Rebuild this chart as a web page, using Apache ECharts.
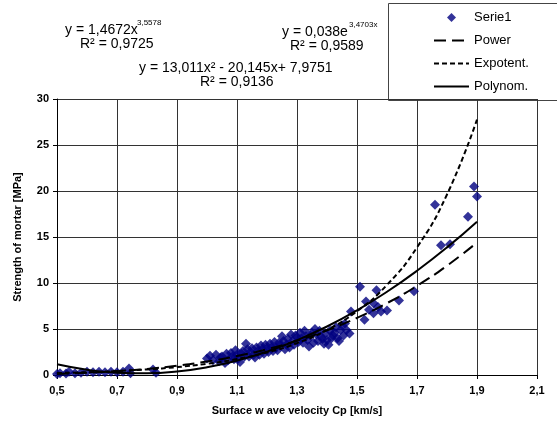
<!DOCTYPE html>
<html>
<head>
<meta charset="utf-8">
<script src="https://cdn.jsdelivr.net/npm/echarts@6/dist/echarts.min.js"></script>
<style>
  html, body { margin: 0; padding: 0; background: #fff; }
  #chart { width: 557px; height: 423px; }
</style>
</head>
<body>
<div id="chart"></div>
<script>
// measured points (Cp [km/s], strength [MPa])
const serieX = [0.50, 0.51, 0.53, 0.54, 0.56, 0.58, 0.60, 0.62, 0.64, 0.66, 0.68, 0.70, 0.72, 0.74, 0.745, 0.82, 0.83,
  1.00, 1.01, 1.02, 1.03, 1.04, 1.045, 1.05, 1.06, 1.065, 1.07, 1.08, 1.085, 1.09, 1.095, 1.10, 1.105, 1.11, 1.115, 1.12, 1.125,
  1.13, 1.135, 1.14, 1.145, 1.15, 1.155, 1.16, 1.165, 1.17, 1.175, 1.18, 1.185, 1.19, 1.195, 1.20, 1.205, 1.21, 1.215, 1.22, 1.225, 1.23, 1.235,
  1.24, 1.245, 1.25, 1.255, 1.26, 1.265, 1.27, 1.275, 1.28, 1.285, 1.29, 1.295, 1.30, 1.305, 1.31, 1.315, 1.32, 1.325, 1.33, 1.335,
  1.34, 1.345, 1.35, 1.355, 1.36, 1.365, 1.37, 1.375, 1.38, 1.385, 1.39, 1.395, 1.40, 1.405, 1.41, 1.415, 1.42, 1.425, 1.43, 1.435,
  1.44, 1.445, 1.45, 1.455, 1.46, 1.465, 1.475, 1.48,
  1.51, 1.525, 1.53, 1.54, 1.555, 1.555, 1.565, 1.57, 1.58, 1.60, 1.64, 1.69, 1.76, 1.78, 1.81, 1.87, 1.89, 1.90];
const serieY = [0.1, 0.2, 0.15, 0.35, 0.2, 0.25, 0.35, 0.3, 0.35, 0.3, 0.35, 0.3, 0.35, 0.7, 0.2, 0.6, 0.25,
  1.8, 2.1, 1.6, 2.2, 1.5, 1.9, 2.0, 1.3, 2.3, 1.6, 2.4, 2.0, 1.7, 2.7, 2.2, 1.8, 1.4, 2.3, 2.6, 2.0,
  3.4, 2.8, 2.0, 2.5, 2.9, 2.2, 1.9, 3.0, 2.6, 2.2, 3.2, 2.8, 2.3, 3.3, 2.9, 2.5, 3.4, 3.0, 2.6, 3.6, 3.0, 2.7,
  3.5, 3.2, 4.2, 3.7, 2.8, 3.3, 3.9, 3.0, 4.4, 3.7, 3.3, 4.3, 4.1, 3.6, 4.6, 4.0, 3.5, 4.8, 4.2, 3.8,
  3.1, 4.3, 4.6, 3.5, 5.0, 4.4, 3.7, 4.8, 4.2, 3.9, 3.4, 4.5, 3.8, 3.3, 4.8, 4.0, 4.3, 4.6, 5.2, 4.0,
  3.7, 4.9, 5.4, 4.3, 5.6, 4.9, 4.5, 6.9,
  9.6, 6.0, 8.0, 7.1, 7.8, 6.7, 9.2, 7.4, 6.9, 7.0, 8.1, 9.1, 18.5, 14.1, 14.2, 17.2, 20.5, 19.4];

// trend curves read along x = 0.5 ... 1.9
const trendX = [0.5, 0.6, 0.7, 0.8, 0.9, 1.0, 1.1, 1.2, 1.3, 1.4, 1.5, 1.6, 1.7, 1.8, 1.9];
const powerY = [0.12, 0.24, 0.41, 0.66, 1.01, 1.47, 2.06, 2.81, 3.73, 4.86, 6.21, 7.81, 9.69, 11.88, 14.40];
const expY = [0.22, 0.30, 0.43, 0.61, 0.86, 1.22, 1.73, 2.45, 3.46, 4.90, 6.93, 9.80, 13.87, 19.62, 27.76];
const polyY = [1.16, 0.57, 0.25, 0.19, 0.38, 0.84, 1.56, 2.54, 3.78, 5.27, 7.03, 9.05, 11.33, 13.87, 16.67];

const xTicks = { min: 0.5, max: 2.1, step: 0.2 };
const yTicks = { min: 0, max: 30, step: 5 };

const FONT = '"Liberation Sans", Arial, sans-serif';
const pairs = (xs, ys) => xs.map((x, i) => [x, ys[i]]);
const DIAMOND = 'path://M5,0L10,5L5,10L0,5Z';

const chart = echarts.init(document.getElementById('chart'), null, { renderer: 'canvas' });

const eqText = (txt, x, y, size) => ({
  type: 'text', left: x, top: y,
  style: { text: txt, font: (size || 14) + 'px ' + FONT, fill: '#000' }
});

// line series legend icons: hide the dot ECharts adds
const noDot = { color: 'rgba(0,0,0,0)', borderWidth: 0 };

chart.setOption({
  animation: false,
  backgroundColor: '#fff',
  grid: { left: 57, right: 20, top: 99, bottom: 48 },
  xAxis: {
    type: 'value', min: xTicks.min, max: xTicks.max, interval: xTicks.step,
    name: 'Surface w ave velocity Cp [km/s]', nameLocation: 'middle', nameGap: 30,
    nameTextStyle: { fontFamily: FONT, fontWeight: 'bold', fontSize: 11, color: '#000' },
    axisLine: { lineStyle: { color: '#000', width: 1 } },
    axisTick: { show: true, length: 4, lineStyle: { color: '#000' } },
    axisLabel: { fontFamily: FONT, fontWeight: 'bold', fontSize: 11, color: '#000', margin: 10,
      formatter: v => v.toFixed(1).replace('.', ',') },
    splitLine: { show: true, lineStyle: { color: '#333', width: 1 } }
  },
  yAxis: {
    type: 'value', min: yTicks.min, max: yTicks.max, interval: yTicks.step,
    name: 'Strength of mortar [MPa]', nameLocation: 'middle', nameGap: 34,
    nameTextStyle: { fontFamily: FONT, fontWeight: 'bold', fontSize: 11, color: '#000' },
    axisLine: { show: true, lineStyle: { color: '#000', width: 1 } },
    axisTick: { show: true, length: 4, lineStyle: { color: '#000' } },
    axisLabel: { fontFamily: FONT, fontWeight: 'bold', fontSize: 11, color: '#000', margin: 8 },
    splitLine: { show: true, lineStyle: { color: '#333', width: 1 } }
  },
  legend: {
    orient: 'vertical', left: 428, top: 6, itemWidth: 35, itemHeight: 9, itemGap: 10,
    symbolKeepAspect: true,
    textStyle: { fontFamily: FONT, fontSize: 13, color: '#000' },
    data: [
      { name: 'Serie1', icon: DIAMOND, itemStyle: { color: '#000080' } },
      { name: 'Power', itemStyle: noDot },
      { name: 'Expotent.', itemStyle: noDot },
      { name: 'Polynom.', itemStyle: noDot }
    ]
  },
  graphic: [
    { type: 'rect', left: 386, top: 1, shape: { width: 200, height: 97 },
      style: { fill: 'none', stroke: '#444', lineWidth: 1 } },
    eqText('y = 1,4672x', 65, 23),
    eqText('3,5578', 137, 19, 8),
    eqText('R² = 0,9725', 80, 37),
    eqText('y = 0,038e', 282, 25),
    eqText('3,4703x', 349, 21, 8),
    eqText('R² = 0,9589', 290, 39),
    eqText('y = 13,011x² - 20,145x+ 7,9751', 139, 61),
    eqText('R² = 0,9136', 200, 75)
  ],
  series: [
    { name: 'Serie1', type: 'scatter', symbol: 'diamond', symbolSize: 10, z: 1,
      itemStyle: { color: '#000080' }, data: pairs(serieX, serieY) },
    { name: 'Power', type: 'line', smooth: true, symbol: 'none', z: 3,
      lineStyle: { color: '#000', width: 2, type: [12, 6] }, itemStyle: noDot,
      data: pairs(trendX, powerY) },
    { name: 'Expotent.', type: 'line', smooth: true, symbol: 'none', z: 3,
      lineStyle: { color: '#000', width: 2, type: [5, 3] }, itemStyle: noDot,
      data: pairs(trendX, expY) },
    { name: 'Polynom.', type: 'line', smooth: true, symbol: 'none', z: 3,
      lineStyle: { color: '#000', width: 2 }, itemStyle: noDot,
      data: pairs(trendX, polyY) }
  ]
});
</script>
</body>
</html>
